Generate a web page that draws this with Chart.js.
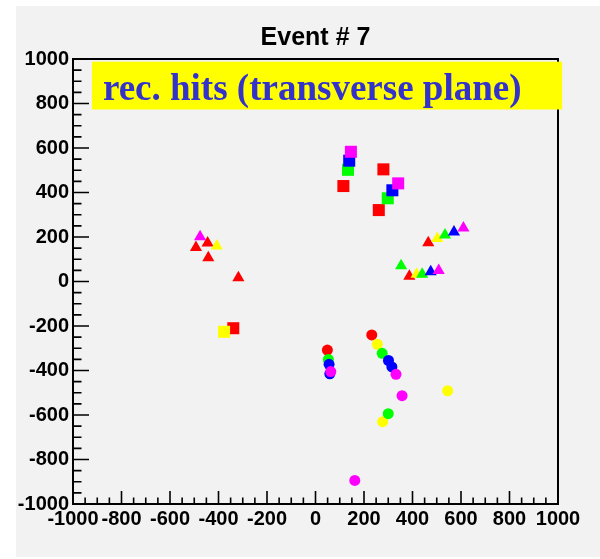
<!DOCTYPE html>
<html>
<head>
<meta charset="utf-8">
<title>Event # 7</title>
<style>
  html, body { margin: 0; padding: 0; background: #ffffff; }
  canvas { display: block; }
</style>
<script src="https://cdn.jsdelivr.net/npm/chart.js@4.4.0/dist/chart.umd.min.js"></script>
</head>
<body>
<canvas id="hits" width="600" height="559"></canvas>
<script>
// ---- text ----
const titleText = 'Event # 7';
const paveText = 'rec. hits (transverse plane)';

// ---- axis range and tick spacing (both axes) ----
const axisMin = -1000;
const axisMax = 1000;
const majorStep = 200;
const minorStep = 50;

// ---- reconstructed hits, one list per layer colour ----
// shape: 'rect' = square, 'triangle', 'circle'
const redX     = [115, 280, 261, -339, 465, -493, -445, -442, -318, 387, 49, 232];
const redY     = [429, 504, 321, -210, 174, 153, 173, 107, 17, 24, -308, -240];
const redShape = ['rect', 'rect', 'rect', 'rect', 'triangle', 'triangle', 'triangle', 'triangle', 'triangle', 'triangle', 'circle', 'circle'];

const yellowX     = [-377, 502, -407, 417, 255, 545, 277];
const yellowY     = [-226, 193, 160, 33, -282, -491, -630];
const yellowShape = ['rect', 'triangle', 'triangle', 'triangle', 'circle', 'circle', 'circle'];

const greenX     = [134, 298, 534, 353, 440, 53, 275, 300];
const greenY     = [502, 374, 209, 71, 33, -350, -323, -594];
const greenShape = ['rect', 'rect', 'triangle', 'triangle', 'triangle', 'circle', 'circle', 'circle'];

const blueX     = [139, 317, 571, 475, 56, 59, 301, 315];
const blueY     = [543, 410, 223, 44, -372, -415, -355, -384];
const blueShape = ['rect', 'rect', 'triangle', 'triangle', 'circle', 'circle', 'circle', 'circle'];

const magentaX     = [146, 341, 610, -476, 508, 63, 332, 357, 162];
const magentaY     = [583, 441, 241, 201, 49, -405, -417, -513, -894];
const magentaShape = ['rect', 'rect', 'triangle', 'triangle', 'triangle', 'circle', 'circle', 'circle', 'circle'];

// marker size for each shape
const markerRadius = { rect: 8.5, triangle: 7, circle: 5.5 };

function layer(label, color, xs, ys, shapes, order) {
  return {
    label: label,
    data: xs.map((x, i) => ({ x: x, y: ys[i] })),
    pointStyle: shapes,
    pointRadius: shapes.map(s => markerRadius[s]),
    pointBackgroundColor: color,
    pointBorderWidth: 0,
    pointBorderColor: color,
    showLine: false,
    order: order
  };
}

// grey pad, frame with inward ticks, and the label box
const padDecor = {
  id: 'padDecor',
  beforeDraw(chart) {
    const ctx = chart.ctx;
    ctx.save();
    ctx.fillStyle = '#f2f2f2';
    ctx.fillRect(16, 6, chart.width - 16, chart.height - 8);
    ctx.restore();
  },
  beforeDatasetsDraw(chart) {
    const ctx = chart.ctx;
    const a = chart.chartArea;
    const sx = chart.scales.x;
    const sy = chart.scales.y;
    ctx.save();
    ctx.strokeStyle = '#000000';
    ctx.lineWidth = 1.6;
    ctx.beginPath();
    for (let v = axisMin; v <= axisMax; v += minorStep) {
      const px = sx.getPixelForValue(v);
      const len = v % majorStep === 0 ? 13 : 6.5;
      ctx.moveTo(px, a.bottom);
      ctx.lineTo(px, a.bottom - len);
    }
    for (let v = axisMin; v <= axisMax; v += minorStep) {
      const py = sy.getPixelForValue(v);
      const len = v % majorStep === 0 ? 16 : 8.5;
      ctx.moveTo(a.left, py);
      ctx.lineTo(a.left + len, py);
    }
    ctx.stroke();
    ctx.lineWidth = 2;
    ctx.strokeRect(a.left, a.top, a.right - a.left, a.bottom - a.top);
    ctx.restore();
  },
  afterDatasetsDraw(chart) {
    const ctx = chart.ctx;
    const sx = chart.scales.x;
    const sy = chart.scales.y;
    const x0 = sx.getPixelForValue(-922);
    const x1 = sx.getPixelForValue(1017);
    const y0 = sy.getPixelForValue(988);
    const y1 = sy.getPixelForValue(773);
    ctx.save();
    ctx.fillStyle = '#ffff00';
    ctx.fillRect(x0, y0, x1 - x0, y1 - y0);
    ctx.fillStyle = '#3333cc';
    ctx.font = 'bold 37px "Liberation Serif", "Times New Roman", serif';
    ctx.textBaseline = 'alphabetic';
    ctx.textAlign = 'left';
    ctx.fillText(paveText, x0 + 11, y0 + 38.5);
    ctx.restore();
  }
};

const tickFont = { family: '"Liberation Sans", Arial, sans-serif', weight: 'bold', size: 20 };

new Chart(document.getElementById('hits'), {
  type: 'scatter',
  data: {
    datasets: [
      layer('red', '#ff0000', redX, redY, redShape, 5),
      layer('yellow', '#ffff00', yellowX, yellowY, yellowShape, 4),
      layer('green', '#00ff00', greenX, greenY, greenShape, 3),
      layer('blue', '#0000ff', blueX, blueY, blueShape, 2),
      layer('magenta', '#ff00ff', magentaX, magentaY, magentaShape, 1)
    ]
  },
  options: {
    responsive: false,
    animation: false,
    devicePixelRatio: 1,
    events: [],
    layout: { padding: { left: 0, right: 42, top: 0, bottom: 0 } },
    plugins: {
      legend: { display: false },
      tooltip: { enabled: false },
      title: {
        display: true,
        text: titleText,
        fullSize: false,
        color: '#000000',
        font: { family: '"Liberation Sans", Arial, sans-serif', weight: 'bold', size: 25, lineHeight: 1.2 },
        padding: { top: 23, bottom: 6 }
      }
    },
    scales: {
      x: {
        type: 'linear',
        min: axisMin,
        max: axisMax,
        grid: { display: false, drawTicks: false, tickLength: 0 },
        border: { display: false },
        afterFit: s => { s.height = 55; },
        ticks: {
          stepSize: majorStep,
          autoSkip: false,
          maxRotation: 0,
          minRotation: 0,
          padding: 3,
          color: '#000000',
          font: tickFont,
          callback: v => String(v)
        }
      },
      y: {
        type: 'linear',
        min: axisMin,
        max: axisMax,
        grid: { display: false, drawTicks: false, tickLength: 0 },
        border: { display: false },
        afterFit: s => { s.width = 73; },
        ticks: {
          stepSize: majorStep,
          autoSkip: false,
          padding: 4,
          color: '#000000',
          font: tickFont,
          callback: v => String(v)
        }
      }
    }
  },
  plugins: [padDecor]
});
</script>
</body>
</html>
